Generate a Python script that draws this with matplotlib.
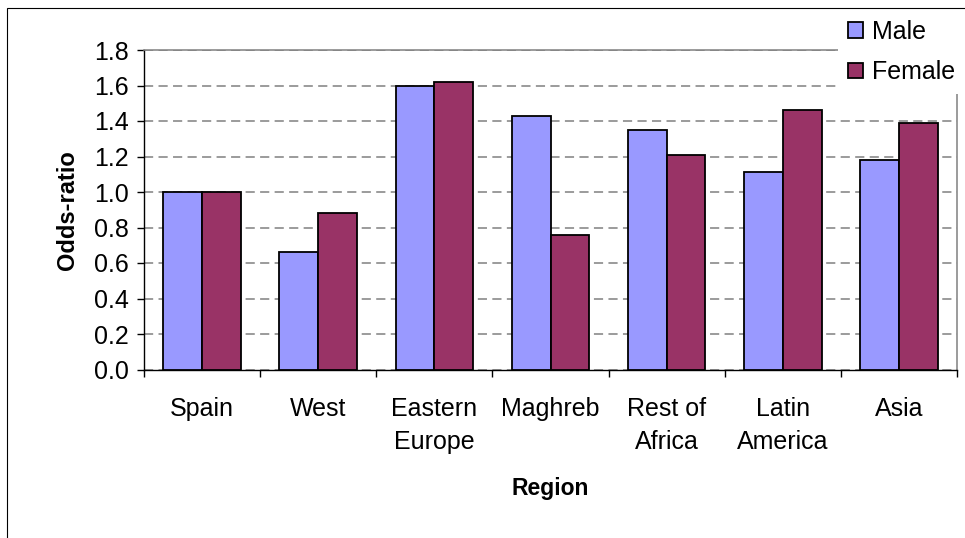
import numpy as np
import matplotlib
matplotlib.use("Agg")
import matplotlib.pyplot as plt
from matplotlib.patches import Rectangle

regions = ["Spain", "West", "Eastern\nEurope", "Maghreb", "Rest of\nAfrica", "Latin\nAmerica", "Asia"]
male = [1.00, 0.66, 1.60, 1.43, 1.35, 1.11, 1.18]
female = [1.00, 0.88, 1.62, 0.76, 1.21, 1.46, 1.39]
y_ticks = [0.0, 0.2, 0.4, 0.6, 0.8, 1.0, 1.2, 1.4, 1.6, 1.8]

plt.rcParams["font.family"] = ["Liberation Sans", "DejaVu Sans"]

W, H = 965, 538
fig = plt.figure(figsize=(W / 100, H / 100), dpi=100)
ax = fig.add_axes([144 / W, 1 - 369.5 / H, (957 - 144) / W, (369.5 - 50) / H])

x = np.arange(len(regions))
bw = 0.334
ax.bar(x - bw / 2, male, width=bw, color="#9999FF", edgecolor="black", linewidth=1.3, label="Male", zorder=3)
ax.bar(x + bw / 2, female, width=bw, color="#993366", edgecolor="black", linewidth=1.3, label="Female", zorder=3)

ax.set_xlim(-0.5, len(regions) - 0.5)
ax.set_ylim(0, 1.8)
ax.set_yticks(y_ticks)
ax.set_yticklabels([f"{v:.1f}" for v in y_ticks], fontsize=18)
ax.yaxis.grid(True, color="#808080", linestyle=(0, (6, 3.5)), linewidth=1.1, zorder=1)

# category labels sit between the boundary tick marks
ax.set_xticks(np.arange(len(regions) + 1) - 0.5)
ax.set_xticklabels([])
ax.set_xticks(x, minor=True)
ax.set_xticklabels(regions, minor=True, fontsize=18, linespacing=1.45, va="top")
ax.tick_params(axis="x", which="minor", length=0, pad=20)
ax.tick_params(axis="x", which="major", length=5, width=1, color="black")
ax.tick_params(axis="y", length=5, width=1, color="black", pad=6)

for side in ["top", "right"]:
    ax.spines[side].set_color("#808080")
    ax.spines[side].set_linewidth(1.1)
for side in ["left", "bottom"]:
    ax.spines[side].set_color("black")
    ax.spines[side].set_linewidth(1.0)

ax.set_ylabel("Odds-ratio", fontsize=17, fontweight="bold", labelpad=11)
ax.set_xlabel("Region", fontsize=16.5, fontweight="bold", labelpad=17)

leg = fig.legend(loc="upper left", bbox_to_anchor=(838 / W, 1 - 10 / H), fontsize=18,
                 frameon=True, framealpha=1, facecolor="white", edgecolor="none",
                 fancybox=False, handlelength=0.6, handleheight=0.6, handletextpad=0.35,
                 labelspacing=0.65, borderpad=0.4, borderaxespad=0)
leg.set_zorder(10)

# outer chart border
fig.patches.append(Rectangle((7 / W, -0.1), 1.2, 1.1 - 7.5 / H, transform=fig.transFigure,
                             fill=False, edgecolor="black", linewidth=0.8))

fig.savefig("out.png", dpi=100)
